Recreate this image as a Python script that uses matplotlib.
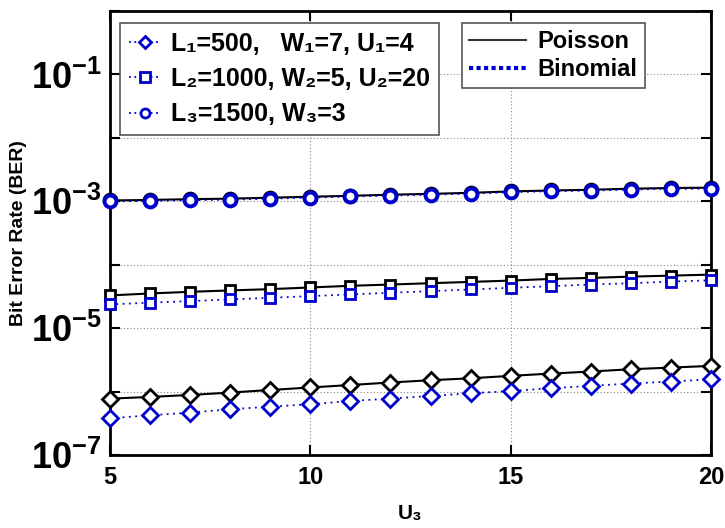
import matplotlib
matplotlib.use("Agg")
import matplotlib.pyplot as plt
from matplotlib.lines import Line2D
from matplotlib.ticker import FixedLocator, FixedFormatter, NullLocator

plt.rcParams['font.family'] = ['Liberation Sans', 'DejaVu Sans']
plt.rcParams['font.weight'] = 'bold'
plt.rcParams['mathtext.fontset'] = 'custom'
plt.rcParams['mathtext.rm'] = 'Liberation Sans:bold'
plt.rcParams['mathtext.bf'] = 'Liberation Sans:bold'
plt.rcParams['mathtext.default'] = 'bf'

# ---------------- data ----------------
u3 = list(range(5, 21))

# L3=1500, W3=3 (circles)
poisson_c = [1.03e-3, 1.05e-3, 1.08e-3, 1.10e-3, 1.14e-3, 1.18e-3, 1.22e-3, 1.27e-3,
             1.31e-3, 1.36e-3, 1.43e-3, 1.48e-3, 1.52e-3, 1.58e-3, 1.62e-3, 1.64e-3]
binom_c = [1.00e-3, 1.01e-3, 1.04e-3, 1.06e-3, 1.10e-3, 1.14e-3, 1.19e-3, 1.23e-3,
           1.27e-3, 1.32e-3, 1.39e-3, 1.44e-3, 1.47e-3, 1.53e-3, 1.57e-3, 1.58e-3]

# L2=1000, W2=5, U2=20 (squares)
poisson_s = [3.28e-5, 3.52e-5, 3.74e-5, 3.93e-5, 4.12e-5, 4.38e-5, 4.65e-5, 4.87e-5,
             5.11e-5, 5.36e-5, 5.62e-5, 5.97e-5, 6.19e-5, 6.49e-5, 6.73e-5, 6.98e-5]
binom_s = [2.37e-5, 2.52e-5, 2.67e-5, 2.84e-5, 3.01e-5, 3.20e-5, 3.40e-5, 3.61e-5,
           3.83e-5, 4.07e-5, 4.32e-5, 4.59e-5, 4.87e-5, 5.11e-5, 5.42e-5, 5.69e-5]

# L1=500, W1=7, U1=4 (diamonds)
poisson_d = [7.74e-7, 8.23e-7, 8.85e-7, 9.64e-7, 1.06e-6, 1.16e-6, 1.27e-6, 1.39e-6,
             1.51e-6, 1.62e-6, 1.77e-6, 1.92e-6, 2.07e-6, 2.25e-6, 2.39e-6, 2.54e-6]
binom_d = [3.79e-7, 4.23e-7, 4.66e-7, 5.26e-7, 5.79e-7, 6.31e-7, 7.12e-7, 7.74e-7,
           8.53e-7, 9.40e-7, 1.02e-6, 1.13e-6, 1.23e-6, 1.34e-6, 1.44e-6, 1.56e-6]

series_labels = ["L\u2081=500,   W\u2081=7, U\u2081=4",
                 "L\u2082=1000, W\u2082=5, U\u2082=20",
                 "L\u2083=1500, W\u2083=3"]
model_labels = ["Poisson", "Binomial"]

x_ticks = [5, 10, 15, 20]
y_ticks = [1e0, 1e-1, 1e-2, 1e-3, 1e-4, 1e-5, 1e-6, 1e-7]
y_ticklabels = ["", r"$\mathbf{10^{-1}}$", "", r"$\mathbf{10^{-3}}$", "",
                r"$\mathbf{10^{-5}}$", "", r"$\mathbf{10^{-7}}$"]

# ---------------- figure ----------------
fig = plt.figure(figsize=(7.25, 5.28), dpi=100)
ax = fig.add_axes([110/725, 1 - 455/528, (711-110)/725, (455-11)/528])

BLUE = '#0000cc'

specs = [
    (poisson_d, binom_d, 'D', 8),
    (poisson_s, binom_s, 's', 7.5),
    (poisson_c, binom_c, 'o', 8.5),
]
bin_markers = []
for pvals, bvals, mk, ms in specs:
    ew = 2.8 if mk == 'o' else 2.0
    ax.plot(u3, pvals, color='black', lw=1.5, marker=mk, ms=ms, mfc='white',
            mec='black', mew=ew, zorder=3, clip_on=False)
    ax.plot(u3, bvals, color=BLUE, lw=1.3, ls=(0, (1, 2.5)), marker=mk, ms=ms,
            mfc='white', mec=BLUE, mew=ew, zorder=4, clip_on=False)
    bin_markers.append(mk)

ax.set_yscale('log')
ax.set_xlim(5, 20)
ax.set_ylim(1e-7, 1e0)

ax.xaxis.set_major_locator(FixedLocator(x_ticks))
ax.yaxis.set_major_locator(FixedLocator(y_ticks))
ax.yaxis.set_major_formatter(FixedFormatter(y_ticklabels))
ax.yaxis.set_minor_locator(NullLocator())
ax.tick_params(axis='both', direction='in', length=7, width=1.5,
               top=True, right=True)
ax.tick_params(axis='x', labelsize=17, pad=8)
ax.tick_params(axis='y', labelsize=26, pad=6)
for lbl in ax.get_xticklabels():
    lbl.set_fontweight('bold')

ax.grid(True, which='major', ls=(0, (1, 2)), color='#888888', lw=0.8)
for sp in ax.spines.values():
    sp.set_linewidth(2)

ax.set_xlabel("U\u2083", fontsize=15, fontweight='bold', labelpad=11)
ax.set_ylabel("Bit Error Rate (BER)", fontsize=14, fontweight='bold', labelpad=3)

# legend 1: series
leg1_handles = [Line2D([], [], color=BLUE, lw=1.3, ls=(0, (1, 2)), marker=mk,
                       ms=6.5, mfc='white', mec=BLUE, mew=2) for mk in bin_markers]
leg1 = ax.legend(leg1_handles, series_labels, loc='upper left',
                 bbox_to_anchor=(10/601, 1 - 12/444), prop={'size': 18, 'weight': 'bold'},
                 fancybox=False, edgecolor='#555555', framealpha=1, handlelength=1.3,
                 handletextpad=0.4, labelspacing=0.45, borderpad=0.35, borderaxespad=0)
leg1.get_frame().set_linewidth(1.2)
ax.add_artist(leg1)

leg2_handles = [Line2D([], [], color='#333333', lw=1.5),
                Line2D([], [], color=BLUE, lw=3, ls=(0, (1, 0.8)))]
leg2 = ax.legend(leg2_handles, model_labels, loc='upper left',
                 bbox_to_anchor=(352/601, 1 - 12/444), prop={'size': 17, 'weight': 'bold'},
                 fancybox=False, edgecolor='#555555', framealpha=1, handlelength=2.4,
                 handletextpad=0.5, labelspacing=0.2, borderpad=0.3, borderaxespad=0)
leg2.get_frame().set_linewidth(1.2)

fig.savefig("out.png", dpi=100)
